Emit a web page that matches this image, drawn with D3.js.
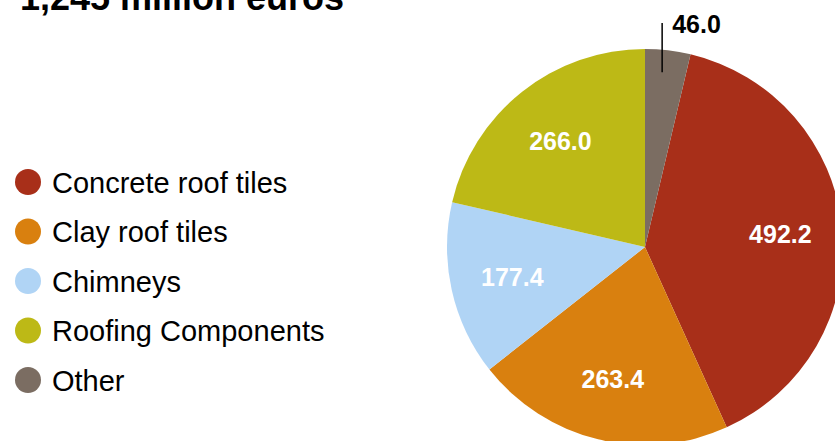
<!DOCTYPE html>
<html>
<head>
<meta charset="utf-8">
<script src="https://cdn.jsdelivr.net/npm/d3@7"></script>
<style>
  body { margin: 0; background: #fff; }
  text { font-family: "Liberation Sans", Arial, Helvetica, sans-serif; }
</style>
</head>
<body>
<div id="chart"></div>
<script>
// Sales by product group, million euros
const categories = ["Concrete roof tiles", "Clay roof tiles", "Chimneys", "Roofing Components", "Other"];
const values = [492.2, 263.4, 177.4, 266.0, 46.0];
const colors = ["#a82f19", "#d9800f", "#b0d4f5", "#bdb916", "#7b6d62"];
const title = "1,245 million euros";

const width = 835;
const height = 441;

const svg = d3.select("#chart")
  .append("svg")
  .attr("width", width)
  .attr("height", height);

// title is partly cut off at the top, as in the original
svg.append("text")
  .attr("x", 20)
  .attr("y", 10)
  .attr("font-size", 36)
  .attr("font-weight", "bold")
  .attr("fill", "#000")
  .text(title);

// legend
const legend = svg.append("g").attr("transform", "translate(28,182)");
const row = legend.selectAll("g")
  .data(categories)
  .enter()
  .append("g")
  .attr("transform", (d, i) => `translate(0,${i * 49.5})`);

row.append("circle")
  .attr("r", 13)
  .attr("fill", (d, i) => colors[i]);

row.append("text")
  .attr("x", 24)
  .attr("y", 10.5)
  .attr("font-size", 29)
  .attr("fill", "#000")
  .text(d => d);

// pie: "Other" sits just right of 12 o'clock, the rest follow clockwise
const total = d3.sum(values);
const offset = values[values.length - 1] / total * 2 * Math.PI;
const cx = 645, cy = 247, R = 198;

const pie = d3.pie()
  .sort(null)
  .startAngle(offset)
  .endAngle(offset + 2 * Math.PI);

const arcs = pie(values);
const arc = d3.arc().innerRadius(0).outerRadius(R);
const labelArc = d3.arc().innerRadius(136).outerRadius(136);

const g = svg.append("g").attr("transform", `translate(${cx},${cy})`);

g.selectAll("path")
  .data(arcs)
  .enter()
  .append("path")
  .attr("d", arc)
  .attr("fill", (d, i) => colors[i]);

// labels inside big slices
g.selectAll("text.inside")
  .data(arcs.filter((d, i) => i < values.length - 1))
  .enter()
  .append("text")
  .attr("class", "inside")
  .attr("transform", d => `translate(${labelArc.centroid(d)})`)
  .attr("text-anchor", "middle")
  .attr("dy", "0.36em")
  .attr("font-size", 25)
  .attr("font-weight", "bold")
  .attr("fill", "#fff")
  .text(d => d.value.toFixed(1));

// small slice gets an outside label with a leader line
const small = arcs[arcs.length - 1];
const mid = (small.startAngle + small.endAngle) / 2 - 2 * Math.PI;
const lx = Math.sin(mid) * 148;
const ly = -Math.cos(mid) * 176;

g.append("line")
  .attr("x1", lx).attr("y1", ly)
  .attr("x2", lx).attr("y2", -R - 26)
  .attr("stroke", "#000")
  .attr("stroke-width", 1.5);

g.append("text")
  .attr("x", lx + 10)
  .attr("y", -R - 16)
  .attr("font-size", 25)
  .attr("font-weight", "bold")
  .attr("fill", "#000")
  .text(small.value.toFixed(1));
</script>
</body>
</html>
